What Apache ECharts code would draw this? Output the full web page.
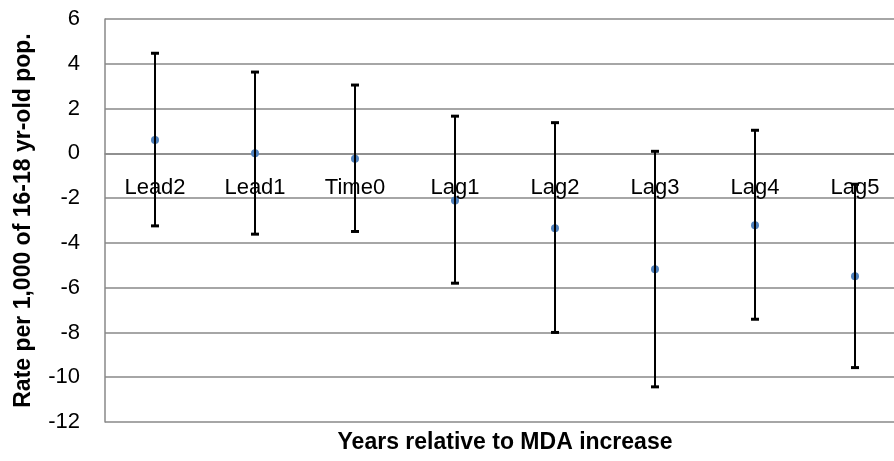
<!DOCTYPE html>
<html>
<head>
<meta charset="utf-8">
<script src="https://cdn.jsdelivr.net/npm/echarts@6/dist/echarts.min.js"></script>
<style>html,body{margin:0;padding:0;background:#fff}#c{width:894px;height:461px}</style>
</head>
<body>
<div id="c"></div>
<script>
const categories = ['Lead2', 'Lead1', 'Time0', 'Lag1', 'Lag2', 'Lag3', 'Lag4', 'Lag5'];
const estimates = [0.6, 0.0, -0.24, -2.11, -3.35, -5.18, -3.21, -5.49];
const upperCI = [4.47, 3.63, 3.05, 1.66, 1.37, 0.09, 1.03, -1.38];
const lowerCI = [-3.24, -3.61, -3.49, -5.8, -8.0, -10.43, -7.41, -9.57];
const yTicks = { min: -12, max: 6, interval: 2 };
const xTitle = 'Years relative to MDA increase';
const yTitle = 'Rate per 1,000 of 16-18 yr-old pop.';

const chart = echarts.init(document.getElementById('c'), null, { renderer: 'canvas' });
const gridColor = '#898989';
const font = 'Liberation Sans';

const errData = categories.map((c, i) => [i, lowerCI[i], upperCI[i]]);
const labelData = categories.map((c, i) => [i, 0, c]);

chart.setOption({
  animation: false,
  grid: { left: 105, width: 800, top: 19, height: 403, containLabel: false, outerBoundsMode: 'none' },
  graphic: [{
    type: 'text',
    x: 505, y: 443,
    style: {
      text: xTitle, fill: '#000', font: 'bold 23px "Liberation Sans"',
      textAlign: 'center', textVerticalAlign: 'middle'
    }
  }],
  xAxis: {
    type: 'category',
    data: categories,
    boundaryGap: true,
    axisLine: { show: true, onZero: true, lineStyle: { color: gridColor, width: 1.5 } },
    axisTick: { show: false },
    axisLabel: { show: false },
    splitLine: { show: false }
  },
  yAxis: {
    type: 'value',
    min: yTicks.min, max: yTicks.max, interval: yTicks.interval,
    axisLine: { show: true, lineStyle: { color: gridColor, width: 1.5 } },
    axisTick: { show: false },
    axisLabel: { color: '#000', fontFamily: font, fontSize: 22, margin: 25 },
    splitLine: { show: true, lineStyle: { color: gridColor, width: 1.5 } },
    name: yTitle,
    nameLocation: 'middle',
    nameGap: 70,
    nameTextStyle: { color: '#000', fontFamily: font, fontSize: 23, fontWeight: 'bold' }
  },
  series: [{
    type: 'scatter',
    data: estimates.map((v, i) => [i, v]),
    symbol: 'circle',
    symbolSize: 8,
    itemStyle: { color: '#4F81BD', opacity: 1 },
    z: 2
  }, {
    type: 'custom',
    data: errData,
    z: 3,
    renderItem: function (params, api) {
      const x = api.value(0);
      const lo = api.coord([x, api.value(1)]);
      const hi = api.coord([x, api.value(2)]);
      const hw = 4;
      const st = { stroke: '#000', lineWidth: 2 };
      return {
        type: 'group',
        children: [
          { type: 'line', shape: { x1: hi[0], y1: hi[1], x2: lo[0], y2: lo[1] }, style: st },
          { type: 'line', shape: { x1: hi[0] - hw, y1: hi[1], x2: hi[0] + hw, y2: hi[1] }, style: { stroke: '#000', lineWidth: 3 } },
          { type: 'line', shape: { x1: lo[0] - hw, y1: lo[1], x2: lo[0] + hw, y2: lo[1] }, style: { stroke: '#000', lineWidth: 3 } }
        ]
      };
    }
  }, {
    type: 'custom',
    data: labelData,
    z: 4,
    silent: true,
    renderItem: function (params, api) {
      const p = api.coord([api.value(0), api.value(1)]);
      return {
        type: 'text',
        x: p[0], y: p[1] + 24,
        style: {
          text: categories[params.dataIndex], fill: '#000',
          font: '22px "Liberation Sans"', textAlign: 'center', textVerticalAlign: 'top'
        }
      };
    }
  }]
});
</script>
</body>
</html>
